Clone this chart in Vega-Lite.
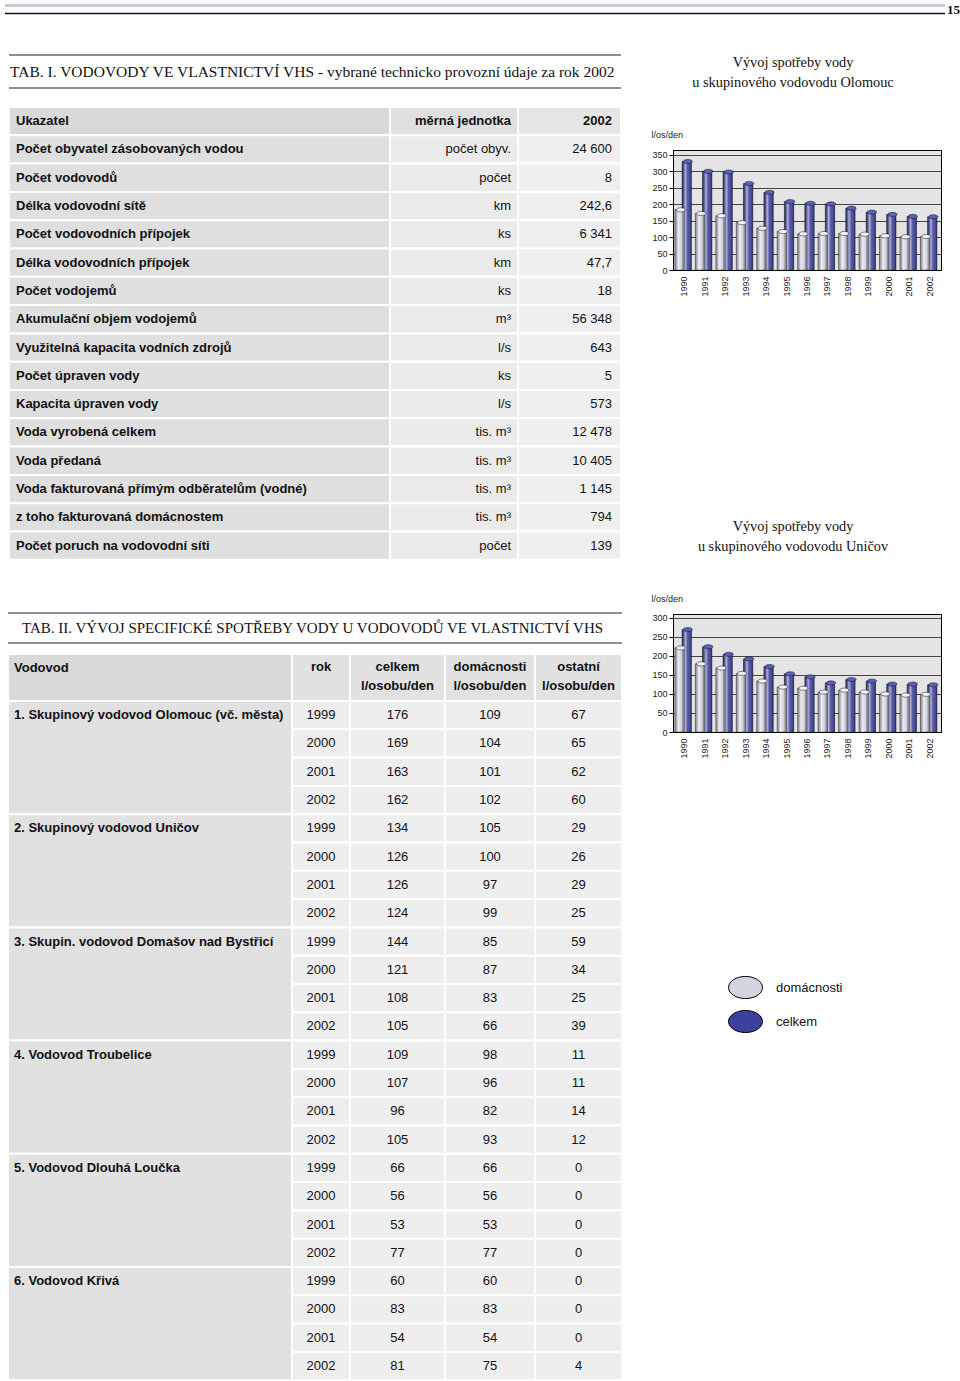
{
  "$schema": "https://vega.github.io/schema/vega-lite/v6.json",
  "padding": 0,
  "background": "white",
  "spacing": 0,
  "bounds": "flush",
  "config": {"view": {"stroke": null}, "font": "Liberation Sans"},
  "datasets": {
    "tab1": [
      {"r": 0, "r2": 1, "ukazatel": "Ukazatel", "jednotka": "měrná jednotka", "hodnota": "2002"},
      {"r": 1, "r2": 2, "ukazatel": "Počet obyvatel zásobovaných vodou", "jednotka": "počet obyv.", "hodnota": "24 600"},
      {"r": 2, "r2": 3, "ukazatel": "Počet vodovodů", "jednotka": "počet", "hodnota": "8"},
      {"r": 3, "r2": 4, "ukazatel": "Délka vodovodní sítě", "jednotka": "km", "hodnota": "242,6"},
      {"r": 4, "r2": 5, "ukazatel": "Počet vodovodních přípojek", "jednotka": "ks", "hodnota": "6 341"},
      {"r": 5, "r2": 6, "ukazatel": "Délka vodovodních přípojek", "jednotka": "km", "hodnota": "47,7"},
      {"r": 6, "r2": 7, "ukazatel": "Počet vodojemů", "jednotka": "ks", "hodnota": "18"},
      {"r": 7, "r2": 8, "ukazatel": "Akumulační objem vodojemů", "jednotka": "m³", "hodnota": "56 348"},
      {"r": 8, "r2": 9, "ukazatel": "Využitelná kapacita vodních zdrojů", "jednotka": "l/s", "hodnota": "643"},
      {"r": 9, "r2": 10, "ukazatel": "Počet úpraven vody", "jednotka": "ks", "hodnota": "5"},
      {"r": 10, "r2": 11, "ukazatel": "Kapacita úpraven vody", "jednotka": "l/s", "hodnota": "573"},
      {"r": 11, "r2": 12, "ukazatel": "Voda vyrobená celkem", "jednotka": "tis. m³", "hodnota": "12 478"},
      {"r": 12, "r2": 13, "ukazatel": "Voda předaná", "jednotka": "tis. m³", "hodnota": "10 405"},
      {"r": 13, "r2": 14, "ukazatel": "Voda fakturovaná přímým odběratelům (vodné)", "jednotka": "tis. m³", "hodnota": "1 145"},
      {"r": 14, "r2": 15, "ukazatel": "\u00a0z toho fakturovaná domácnostem", "jednotka": "tis. m³", "hodnota": "794"},
      {"r": 15, "r2": 16, "ukazatel": "Počet poruch na vodovodní síti", "jednotka": "počet", "hodnota": "139"}
    ],
    "tab2groups": [
      {"r": -1, "r2": 0, "nazev": "Vodovod"},
      {"r": 0, "r2": 4, "nazev": "1. Skupinový vodovod Olomouc (vč. města)"},
      {"r": 4, "r2": 8, "nazev": "2. Skupinový vodovod Uničov"},
      {"r": 8, "r2": 12, "nazev": "3. Skupin. vodovod Domašov nad Bystřicí"},
      {"r": 12, "r2": 16, "nazev": "4. Vodovod Troubelice"},
      {"r": 16, "r2": 20, "nazev": "5. Vodovod Dlouhá Loučka"},
      {"r": 20, "r2": 24, "nazev": "6. Vodovod Křivá"}
    ],
    "tab2rows": [
      {"r": -1, "r2": 0, "rok": "rok", "celkem": "celkem\nl/osobu/den", "dom": "domácnosti\nl/osobu/den", "ost": "ostatní\nl/osobu/den"},
      {"r": 0, "r2": 1, "rok": 1999, "celkem": 176, "dom": 109, "ost": 67},
      {"r": 1, "r2": 2, "rok": 2000, "celkem": 169, "dom": 104, "ost": 65},
      {"r": 2, "r2": 3, "rok": 2001, "celkem": 163, "dom": 101, "ost": 62},
      {"r": 3, "r2": 4, "rok": 2002, "celkem": 162, "dom": 102, "ost": 60},
      {"r": 4, "r2": 5, "rok": 1999, "celkem": 134, "dom": 105, "ost": 29},
      {"r": 5, "r2": 6, "rok": 2000, "celkem": 126, "dom": 100, "ost": 26},
      {"r": 6, "r2": 7, "rok": 2001, "celkem": 126, "dom": 97, "ost": 29},
      {"r": 7, "r2": 8, "rok": 2002, "celkem": 124, "dom": 99, "ost": 25},
      {"r": 8, "r2": 9, "rok": 1999, "celkem": 144, "dom": 85, "ost": 59},
      {"r": 9, "r2": 10, "rok": 2000, "celkem": 121, "dom": 87, "ost": 34},
      {"r": 10, "r2": 11, "rok": 2001, "celkem": 108, "dom": 83, "ost": 25},
      {"r": 11, "r2": 12, "rok": 2002, "celkem": 105, "dom": 66, "ost": 39},
      {"r": 12, "r2": 13, "rok": 1999, "celkem": 109, "dom": 98, "ost": 11},
      {"r": 13, "r2": 14, "rok": 2000, "celkem": 107, "dom": 96, "ost": 11},
      {"r": 14, "r2": 15, "rok": 2001, "celkem": 96, "dom": 82, "ost": 14},
      {"r": 15, "r2": 16, "rok": 2002, "celkem": 105, "dom": 93, "ost": 12},
      {"r": 16, "r2": 17, "rok": 1999, "celkem": 66, "dom": 66, "ost": 0},
      {"r": 17, "r2": 18, "rok": 2000, "celkem": 56, "dom": 56, "ost": 0},
      {"r": 18, "r2": 19, "rok": 2001, "celkem": 53, "dom": 53, "ost": 0},
      {"r": 19, "r2": 20, "rok": 2002, "celkem": 77, "dom": 77, "ost": 0},
      {"r": 20, "r2": 21, "rok": 1999, "celkem": 60, "dom": 60, "ost": 0},
      {"r": 21, "r2": 22, "rok": 2000, "celkem": 83, "dom": 83, "ost": 0},
      {"r": 22, "r2": 23, "rok": 2001, "celkem": 54, "dom": 54, "ost": 0},
      {"r": 23, "r2": 24, "rok": 2002, "celkem": 81, "dom": 75, "ost": 4}
    ],
    "olomouc": [
      {"rok": 1990, "rada": "celkem", "hodnota": 330},
      {"rok": 1991, "rada": "celkem", "hodnota": 300},
      {"rok": 1992, "rada": "celkem", "hodnota": 298},
      {"rok": 1993, "rada": "celkem", "hodnota": 263},
      {"rok": 1994, "rada": "celkem", "hodnota": 236},
      {"rok": 1995, "rada": "celkem", "hodnota": 208},
      {"rok": 1996, "rada": "celkem", "hodnota": 203},
      {"rok": 1997, "rada": "celkem", "hodnota": 201},
      {"rok": 1998, "rada": "celkem", "hodnota": 188},
      {"rok": 1999, "rada": "celkem", "hodnota": 176},
      {"rok": 2000, "rada": "celkem", "hodnota": 169},
      {"rok": 2001, "rada": "celkem", "hodnota": 163},
      {"rok": 2002, "rada": "celkem", "hodnota": 162},
      {"rok": 1990, "rada": "domácnosti", "hodnota": 183},
      {"rok": 1991, "rada": "domácnosti", "hodnota": 172},
      {"rok": 1992, "rada": "domácnosti", "hodnota": 165},
      {"rok": 1993, "rada": "domácnosti", "hodnota": 144},
      {"rok": 1994, "rada": "domácnosti", "hodnota": 127},
      {"rok": 1995, "rada": "domácnosti", "hodnota": 117},
      {"rok": 1996, "rada": "domácnosti", "hodnota": 110},
      {"rok": 1997, "rada": "domácnosti", "hodnota": 111},
      {"rok": 1998, "rada": "domácnosti", "hodnota": 111},
      {"rok": 1999, "rada": "domácnosti", "hodnota": 109},
      {"rok": 2000, "rada": "domácnosti", "hodnota": 104},
      {"rok": 2001, "rada": "domácnosti", "hodnota": 101},
      {"rok": 2002, "rada": "domácnosti", "hodnota": 102}
    ],
    "unicov": [
      {"rok": 1990, "rada": "celkem", "hodnota": 269},
      {"rok": 1991, "rada": "celkem", "hodnota": 224},
      {"rok": 1992, "rada": "celkem", "hodnota": 204},
      {"rok": 1993, "rada": "celkem", "hodnota": 192},
      {"rok": 1994, "rada": "celkem", "hodnota": 172},
      {"rok": 1995, "rada": "celkem", "hodnota": 153},
      {"rok": 1996, "rada": "celkem", "hodnota": 145},
      {"rok": 1997, "rada": "celkem", "hodnota": 129},
      {"rok": 1998, "rada": "celkem", "hodnota": 138},
      {"rok": 1999, "rada": "celkem", "hodnota": 134},
      {"rok": 2000, "rada": "celkem", "hodnota": 126},
      {"rok": 2001, "rada": "celkem", "hodnota": 126},
      {"rok": 2002, "rada": "celkem", "hodnota": 124},
      {"rok": 1990, "rada": "domácnosti", "hodnota": 221},
      {"rok": 1991, "rada": "domácnosti", "hodnota": 179},
      {"rok": 1992, "rada": "domácnosti", "hodnota": 168},
      {"rok": 1993, "rada": "domácnosti", "hodnota": 154},
      {"rok": 1994, "rada": "domácnosti", "hodnota": 134},
      {"rok": 1995, "rada": "domácnosti", "hodnota": 118},
      {"rok": 1996, "rada": "domácnosti", "hodnota": 115},
      {"rok": 1997, "rada": "domácnosti", "hodnota": 105},
      {"rok": 1998, "rada": "domácnosti", "hodnota": 110},
      {"rok": 1999, "rada": "domácnosti", "hodnota": 105},
      {"rok": 2000, "rada": "domácnosti", "hodnota": 100},
      {"rok": 2001, "rada": "domácnosti", "hodnota": 97},
      {"rok": 2002, "rada": "domácnosti", "hodnota": 99}
    ]
  },
  "vconcat": [
    {
      "width": 960,
      "height": 20,
      "data": {"values": [{}]},
      "layer": [
        {"mark": {"type": "rule", "color": "#c9cad8", "strokeWidth": 3}, "encoding": {"x": {"datum": 0, "type": "quantitative", "scale": {"domain": [0, 1], "range": [5, 945]}, "axis": null}, "x2": {"datum": 1}, "y": {"datum": 0, "type": "quantitative", "scale": {"domain": [0, 1], "range": [5.5, 13.5]}, "axis": null}}},
        {"mark": {"type": "rule", "color": "#111111", "strokeWidth": 1.3}, "encoding": {"x": {"datum": 0, "type": "quantitative", "axis": null}, "x2": {"datum": 1}, "y": {"datum": 1, "type": "quantitative", "axis": null}}},
        {"mark": {"type": "text", "text": "15", "align": "left", "baseline": "middle", "dx": 2, "font": "Liberation Serif", "fontWeight": "bold", "fontSize": 13, "color": "#111"}, "encoding": {"x": {"datum": 1, "type": "quantitative", "axis": null}, "y": {"datum": 0.55, "type": "quantitative", "axis": null}}}
      ]
    },
    {
      "hconcat": [
        {
          "vconcat": [
            {
              "width": 630,
              "height": 570,
              "layer": [
                {"data": {"values": [{}]}, "mark": {"type": "rule", "color": "#6a6a6a", "strokeWidth": 1.5}, "encoding": {"x": {"datum": 0, "type": "quantitative", "scale": {"domain": [0, 1, 2, 3], "range": [9, 390, 518, 621], "nice": false, "zero": false}, "axis": null}, "x2": {"datum": 3}, "y": {"datum": -2, "type": "quantitative", "scale": {"domain": [-2, -1, 0, 16], "range": [35, 68, 87, 539.8], "nice": false, "zero": false}, "axis": null}}},
                {"data": {"values": [{}]}, "mark": {"type": "rule", "color": "#6a6a6a", "strokeWidth": 1.5}, "encoding": {"x": {"datum": 0, "type": "quantitative", "axis": null}, "x2": {"datum": 3}, "y": {"datum": -1, "type": "quantitative", "axis": null}}},
                {"data": {"values": [{}]}, "mark": {"type": "text", "text": "TAB. I. VODOVODY VE VLASTNICTVÍ VHS - vybrané technicko provozní údaje za rok 2002", "align": "left", "baseline": "middle", "dx": 1, "font": "Liberation Serif", "fontSize": 15.5, "color": "#111"}, "encoding": {"x": {"datum": 0, "type": "quantitative", "axis": null}, "y": {"datum": -1.5, "type": "quantitative", "axis": null}}},
                {"data": {"name": "tab1"}, "mark": {"type": "rect", "stroke": "white", "strokeWidth": 2}, "encoding": {"x": {"datum": 0, "type": "quantitative", "axis": null}, "x2": {"datum": 1}, "y": {"field": "r", "type": "quantitative", "axis": null}, "y2": {"field": "r2"}, "fill": {"condition": {"test": "datum.r == 0", "value": "#d9d9d9"}, "value": "#dfdfdf"}}},
                {"data": {"name": "tab1"}, "mark": {"type": "rect", "stroke": "white", "strokeWidth": 2}, "encoding": {"x": {"datum": 1, "type": "quantitative", "axis": null}, "x2": {"datum": 2}, "y": {"field": "r", "type": "quantitative", "axis": null}, "y2": {"field": "r2"}, "fill": {"condition": {"test": "datum.r == 0", "value": "#e0e0e0"}, "value": "#ebebeb"}}},
                {"data": {"name": "tab1"}, "mark": {"type": "rect", "stroke": "white", "strokeWidth": 2}, "encoding": {"x": {"datum": 2, "type": "quantitative", "axis": null}, "x2": {"datum": 3}, "y": {"field": "r", "type": "quantitative", "axis": null}, "y2": {"field": "r2"}, "fill": {"condition": {"test": "datum.r == 0", "value": "#e6e6e6"}, "value": "#efefef"}}},
                {"data": {"name": "tab1"}, "mark": {"type": "text", "align": "left", "baseline": "middle", "dx": 7, "dy": 14.15, "font": "Liberation Sans", "fontSize": 13, "fontWeight": "bold", "color": "#111"}, "encoding": {"x": {"datum": 0, "type": "quantitative", "axis": null}, "y": {"field": "r", "type": "quantitative", "axis": null}, "text": {"field": "ukazatel", "type": "nominal"}}},
                {"data": {"name": "tab1"}, "transform": [{"filter": "datum.r > 0"}], "mark": {"type": "text", "align": "right", "baseline": "middle", "dx": -7, "dy": 14.15, "font": "Liberation Sans", "fontSize": 13, "color": "#111"}, "encoding": {"x": {"datum": 2, "type": "quantitative", "axis": null}, "y": {"field": "r", "type": "quantitative", "axis": null}, "text": {"field": "jednotka", "type": "nominal"}}},
                {"data": {"name": "tab1"}, "transform": [{"filter": "datum.r > 0"}], "mark": {"type": "text", "align": "right", "baseline": "middle", "dx": -9, "dy": 14.15, "font": "Liberation Sans", "fontSize": 13, "color": "#111"}, "encoding": {"x": {"datum": 3, "type": "quantitative", "axis": null}, "y": {"field": "r", "type": "quantitative", "axis": null}, "text": {"field": "hodnota", "type": "nominal"}}},
                {"data": {"name": "tab1"}, "transform": [{"filter": "datum.r == 0"}], "mark": {"type": "text", "align": "right", "baseline": "middle", "dx": -7, "dy": 14.15, "font": "Liberation Sans", "fontSize": 13, "fontWeight": "bold", "color": "#111"}, "encoding": {"x": {"datum": 2, "type": "quantitative", "axis": null}, "y": {"field": "r", "type": "quantitative", "axis": null}, "text": {"field": "jednotka", "type": "nominal"}}},
                {"data": {"name": "tab1"}, "transform": [{"filter": "datum.r == 0"}], "mark": {"type": "text", "align": "right", "baseline": "middle", "dx": -9, "dy": 14.15, "font": "Liberation Sans", "fontSize": 13, "fontWeight": "bold", "color": "#111"}, "encoding": {"x": {"datum": 3, "type": "quantitative", "axis": null}, "y": {"field": "r", "type": "quantitative", "axis": null}, "text": {"field": "hodnota", "type": "nominal"}}}
              ]
            },
            {
              "width": 630,
              "height": 791,
              "layer": [
                {"data": {"values": [{}]}, "mark": {"type": "rule", "color": "#6a6a6a", "strokeWidth": 1.5}, "encoding": {"x": {"datum": 0, "type": "quantitative", "scale": {"domain": [0, 1, 2, 3, 4, 5], "range": [8, 292, 350, 445, 535, 622], "nice": false, "zero": false}, "axis": null}, "x2": {"datum": 5}, "y": {"datum": -3, "type": "quantitative", "scale": {"domain": [-3, -2, -1, 0, 24], "range": [23, 53, 64, 111, 790.2], "nice": false, "zero": false}, "axis": null}}},
                {"data": {"values": [{}]}, "mark": {"type": "rule", "color": "#6a6a6a", "strokeWidth": 1.5}, "encoding": {"x": {"datum": 0, "type": "quantitative", "axis": null}, "x2": {"datum": 5}, "y": {"datum": -2, "type": "quantitative", "axis": null}}},
                {"data": {"values": [{}]}, "mark": {"type": "text", "text": "TAB. II. VÝVOJ SPECIFICKÉ SPOTŘEBY VODY U VODOVODŮ VE VLASTNICTVÍ VHS", "align": "left", "baseline": "middle", "dx": 14, "font": "Liberation Serif", "fontSize": 15, "color": "#111"}, "encoding": {"x": {"datum": 0, "type": "quantitative", "axis": null}, "y": {"datum": -2.5, "type": "quantitative", "axis": null}}},
                {"data": {"name": "tab2groups"}, "mark": {"type": "rect", "stroke": "white", "strokeWidth": 2}, "encoding": {"x": {"datum": 0, "type": "quantitative", "axis": null}, "x2": {"datum": 1}, "y": {"field": "r", "type": "quantitative", "axis": null}, "y2": {"field": "r2"}, "fill": {"condition": {"test": "datum.r < 0", "value": "#d9d9d9"}, "value": "#e1e1e1"}}},
                {"data": {"name": "tab2rows"}, "mark": {"type": "rect", "stroke": "white", "strokeWidth": 2}, "encoding": {"x": {"datum": 1, "type": "quantitative", "axis": null}, "x2": {"datum": 2}, "y": {"field": "r", "type": "quantitative", "axis": null}, "y2": {"field": "r2"}, "fill": {"condition": {"test": "datum.r < 0", "value": "#e2e2e2"}, "value": "#eeeeee"}}},
                {"data": {"name": "tab2rows"}, "mark": {"type": "rect", "stroke": "white", "strokeWidth": 2}, "encoding": {"x": {"datum": 2, "type": "quantitative", "axis": null}, "x2": {"datum": 3}, "y": {"field": "r", "type": "quantitative", "axis": null}, "y2": {"field": "r2"}, "fill": {"condition": {"test": "datum.r < 0", "value": "#e2e2e2"}, "value": "#eeeeee"}}},
                {"data": {"name": "tab2rows"}, "mark": {"type": "rect", "stroke": "white", "strokeWidth": 2}, "encoding": {"x": {"datum": 3, "type": "quantitative", "axis": null}, "x2": {"datum": 4}, "y": {"field": "r", "type": "quantitative", "axis": null}, "y2": {"field": "r2"}, "fill": {"condition": {"test": "datum.r < 0", "value": "#e2e2e2"}, "value": "#eeeeee"}}},
                {"data": {"name": "tab2rows"}, "mark": {"type": "rect", "stroke": "white", "strokeWidth": 2}, "encoding": {"x": {"datum": 4, "type": "quantitative", "axis": null}, "x2": {"datum": 5}, "y": {"field": "r", "type": "quantitative", "axis": null}, "y2": {"field": "r2"}, "fill": {"condition": {"test": "datum.r < 0", "value": "#e2e2e2"}, "value": "#eeeeee"}}},
                {"data": {"name": "tab2groups"}, "mark": {"type": "text", "align": "left", "baseline": "middle", "dx": 6, "dy": 14.15, "font": "Liberation Sans", "fontSize": 13, "fontWeight": "bold", "color": "#111"}, "encoding": {"x": {"datum": 0, "type": "quantitative", "axis": null}, "y": {"field": "r", "type": "quantitative", "axis": null}, "text": {"field": "nazev", "type": "nominal"}}},
                {"data": {"name": "tab2rows"}, "transform": [{"filter": "datum.r >= 0"}], "mark": {"type": "text", "align": "center", "baseline": "middle", "dy": 14.15, "font": "Liberation Sans", "fontSize": 13, "color": "#111"}, "encoding": {"x": {"datum": 1.5, "type": "quantitative", "axis": null}, "y": {"field": "r", "type": "quantitative", "axis": null}, "text": {"field": "rok", "type": "nominal"}}},
                {"data": {"name": "tab2rows"}, "transform": [{"filter": "datum.r >= 0"}], "mark": {"type": "text", "align": "center", "baseline": "middle", "dy": 14.15, "font": "Liberation Sans", "fontSize": 13, "color": "#111"}, "encoding": {"x": {"datum": 2.5, "type": "quantitative", "axis": null}, "y": {"field": "r", "type": "quantitative", "axis": null}, "text": {"field": "celkem", "type": "nominal"}}},
                {"data": {"name": "tab2rows"}, "transform": [{"filter": "datum.r >= 0"}], "mark": {"type": "text", "align": "center", "baseline": "middle", "dy": 14.15, "font": "Liberation Sans", "fontSize": 13, "color": "#111"}, "encoding": {"x": {"datum": 3.5, "type": "quantitative", "axis": null}, "y": {"field": "r", "type": "quantitative", "axis": null}, "text": {"field": "dom", "type": "nominal"}}},
                {"data": {"name": "tab2rows"}, "transform": [{"filter": "datum.r >= 0"}], "mark": {"type": "text", "align": "center", "baseline": "middle", "dy": 14.15, "font": "Liberation Sans", "fontSize": 13, "color": "#111"}, "encoding": {"x": {"datum": 4.5, "type": "quantitative", "axis": null}, "y": {"field": "r", "type": "quantitative", "axis": null}, "text": {"field": "ost", "type": "nominal"}}},
                {"data": {"name": "tab2rows"}, "transform": [{"filter": "datum.r < 0"}], "mark": {"type": "text", "align": "center", "baseline": "top", "lineBreak": "\n", "lineHeight": 19, "dy": 7, "font": "Liberation Sans", "fontSize": 13, "fontWeight": "bold", "color": "#111"}, "encoding": {"x": {"datum": 1.5, "type": "quantitative", "axis": null}, "y": {"field": "r", "type": "quantitative", "axis": null}, "text": {"field": "rok", "type": "nominal"}}},
                {"data": {"name": "tab2rows"}, "transform": [{"filter": "datum.r < 0"}], "mark": {"type": "text", "align": "center", "baseline": "top", "lineBreak": "\n", "lineHeight": 19, "dy": 7, "font": "Liberation Sans", "fontSize": 13, "fontWeight": "bold", "color": "#111"}, "encoding": {"x": {"datum": 2.5, "type": "quantitative", "axis": null}, "y": {"field": "r", "type": "quantitative", "axis": null}, "text": {"field": "celkem", "type": "nominal"}}},
                {"data": {"name": "tab2rows"}, "transform": [{"filter": "datum.r < 0"}], "mark": {"type": "text", "align": "center", "baseline": "top", "lineBreak": "\n", "lineHeight": 19, "dy": 7, "font": "Liberation Sans", "fontSize": 13, "fontWeight": "bold", "color": "#111"}, "encoding": {"x": {"datum": 3.5, "type": "quantitative", "axis": null}, "y": {"field": "r", "type": "quantitative", "axis": null}, "text": {"field": "dom", "type": "nominal"}}},
                {"data": {"name": "tab2rows"}, "transform": [{"filter": "datum.r < 0"}], "mark": {"type": "text", "align": "center", "baseline": "top", "lineBreak": "\n", "lineHeight": 19, "dy": 7, "font": "Liberation Sans", "fontSize": 13, "fontWeight": "bold", "color": "#111"}, "encoding": {"x": {"datum": 4.5, "type": "quantitative", "axis": null}, "y": {"field": "r", "type": "quantitative", "axis": null}, "text": {"field": "ost", "type": "nominal"}}}
              ]
            }
          ],
          "spacing": 0,
          "bounds": "flush"
        },
        {
          "vconcat": [
            {"width": 268, "height": 130, "data": {"values": [{}]}, "mark": {"type": "text", "text": " "}, "encoding": {}},
            {
              "width": 268,
              "height": 120,
              "data": {"name": "olomouc"},
              "view": {"fill": "#e4e4e4", "stroke": "#000000", "strokeWidth": 1},
              "title": {"text": ["Vývoj spotřeby vody", "u skupinového vodovodu Olomouc"], "font": "Liberation Serif", "fontSize": 14.3, "fontWeight": "normal", "anchor": "middle", "frame": "group", "dx": -14, "offset": 40, "lineHeight": 20, "color": "#111"},
              "encoding": {
                "x": {"field": "rok", "type": "ordinal", "title": null, "scale": {"paddingInner": 0.3, "paddingOuter": 0.2}, "axis": {"labelAngle": 270, "labelFont": "Liberation Sans", "labelFontSize": 9, "labelColor": "#222", "ticks": false, "domainColor": "#000", "labelPadding": 6}},
                "xOffset": {"field": "rada", "type": "nominal", "scale": {"domain": ["domácnosti", "celkem"]}},
                "y": {"field": "hodnota", "type": "quantitative", "scale": {"domain": [0, 365], "nice": false}, "axis": {"values": [0, 50, 100, 150, 200, 250, 300, 350], "title": "l/os/den", "titleAngle": 0, "titleAlign": "left", "titleBaseline": "alphabetic", "titleX": -22, "titleY": -13, "titleFont": "Liberation Sans", "titleFontSize": 9, "titleFontWeight": "normal", "titleColor": "#222", "labelFont": "Liberation Sans", "labelFontSize": 9, "labelColor": "#222", "labelPadding": 2, "domainColor": "#000", "tickColor": "#000", "tickSize": 4, "gridColor": "#000", "gridWidth": 0.7}}
              },
              "layer": [
                {"mark": {"type": "bar", "width": {"band": 1.3}, "stroke": "#111", "strokeWidth": 0.5}, "encoding": {"color": {"field": "rada", "type": "nominal", "scale": {"domain": ["domácnosti", "celkem"], "range": ["#d3d4e2", "#3d419c"]}, "legend": {"orient": "none", "legendX": 728, "legendY": 970, "title": null, "symbolType": "M-1,0A1,0.65,0,1,1,1,0A1,0.65,0,1,1,-1,0Z", "symbolSize": 1156, "symbolStrokeColor": "#000", "symbolStrokeWidth": 1, "symbolOpacity": 1, "labelFont": "Liberation Sans", "labelFontSize": 13, "labelOffset": 13, "labelColor": "#111", "rowPadding": 3, "padding": 0}}}},
                {"mark": {"type": "bar", "width": {"band": 1.3}, "color": {"gradient": "linear", "x1": 0, "y1": 0, "x2": 1, "y2": 0, "stops": [{"offset": 0, "color": "rgba(0,0,0,0.25)"}, {"offset": 0.35, "color": "rgba(255,255,255,0.6)"}, {"offset": 0.6, "color": "rgba(255,255,255,0.1)"}, {"offset": 1, "color": "rgba(0,0,0,0.3)"}]}}},
                {"mark": {"type": "point", "shape": "M-1,0A1,0.45,0,1,1,1,0A1,0.45,0,1,1,-1,0Z", "size": 85, "filled": true, "opacity": 1, "stroke": "#111", "strokeWidth": 0.5}, "encoding": {"fill": {"condition": {"test": "datum.rada === 'celkem'", "value": "#5a5fc0"}, "value": "#f2f2f8"}}}
              ]
            },
            {"width": 268, "height": 344, "data": {"values": [{}]}, "mark": {"type": "text", "text": " "}, "encoding": {}},
            {
              "width": 268,
              "height": 118,
              "data": {"name": "unicov"},
              "view": {"fill": "#e4e4e4", "stroke": "#000000", "strokeWidth": 1},
              "title": {"text": ["Vývoj spotřeby vody", "u skupinového vodovodu Uničov"], "font": "Liberation Serif", "fontSize": 14.3, "fontWeight": "normal", "anchor": "middle", "frame": "group", "dx": -14, "offset": 40, "lineHeight": 20, "color": "#111"},
              "encoding": {
                "x": {"field": "rok", "type": "ordinal", "title": null, "scale": {"paddingInner": 0.3, "paddingOuter": 0.2}, "axis": {"labelAngle": 270, "labelFont": "Liberation Sans", "labelFontSize": 9, "labelColor": "#222", "ticks": false, "domainColor": "#000", "labelPadding": 6}},
                "xOffset": {"field": "rada", "type": "nominal", "scale": {"domain": ["domácnosti", "celkem"]}},
                "y": {"field": "hodnota", "type": "quantitative", "scale": {"domain": [0, 310], "nice": false}, "axis": {"values": [0, 50, 100, 150, 200, 250, 300], "title": "l/os/den", "titleAngle": 0, "titleAlign": "left", "titleBaseline": "alphabetic", "titleX": -22, "titleY": -13, "titleFont": "Liberation Sans", "titleFontSize": 9, "titleFontWeight": "normal", "titleColor": "#222", "labelFont": "Liberation Sans", "labelFontSize": 9, "labelColor": "#222", "labelPadding": 2, "domainColor": "#000", "tickColor": "#000", "tickSize": 4, "gridColor": "#000", "gridWidth": 0.7}}
              },
              "layer": [
                {"mark": {"type": "bar", "width": {"band": 1.3}, "stroke": "#111", "strokeWidth": 0.5}, "encoding": {"color": {"field": "rada", "type": "nominal", "scale": {"domain": ["domácnosti", "celkem"], "range": ["#d3d4e2", "#3d419c"]}, "legend": {"orient": "none", "legendX": 728, "legendY": 970, "title": null, "symbolType": "M-1,0A1,0.65,0,1,1,1,0A1,0.65,0,1,1,-1,0Z", "symbolSize": 1156, "symbolStrokeColor": "#000", "symbolStrokeWidth": 1, "symbolOpacity": 1, "labelFont": "Liberation Sans", "labelFontSize": 13, "labelOffset": 13, "labelColor": "#111", "rowPadding": 3, "padding": 0}}}},
                {"mark": {"type": "bar", "width": {"band": 1.3}, "color": {"gradient": "linear", "x1": 0, "y1": 0, "x2": 1, "y2": 0, "stops": [{"offset": 0, "color": "rgba(0,0,0,0.25)"}, {"offset": 0.35, "color": "rgba(255,255,255,0.6)"}, {"offset": 0.6, "color": "rgba(255,255,255,0.1)"}, {"offset": 1, "color": "rgba(0,0,0,0.3)"}]}}},
                {"mark": {"type": "point", "shape": "M-1,0A1,0.45,0,1,1,1,0A1,0.45,0,1,1,-1,0Z", "size": 85, "filled": true, "opacity": 1, "stroke": "#111", "strokeWidth": 0.5}, "encoding": {"fill": {"condition": {"test": "datum.rada === 'celkem'", "value": "#5a5fc0"}, "value": "#f2f2f8"}}}
              ]
            }
          ],
          "spacing": 0,
          "bounds": "flush"
        }
      ],
      "spacing": 20,
      "bounds": "full"
    }
  ]
}
